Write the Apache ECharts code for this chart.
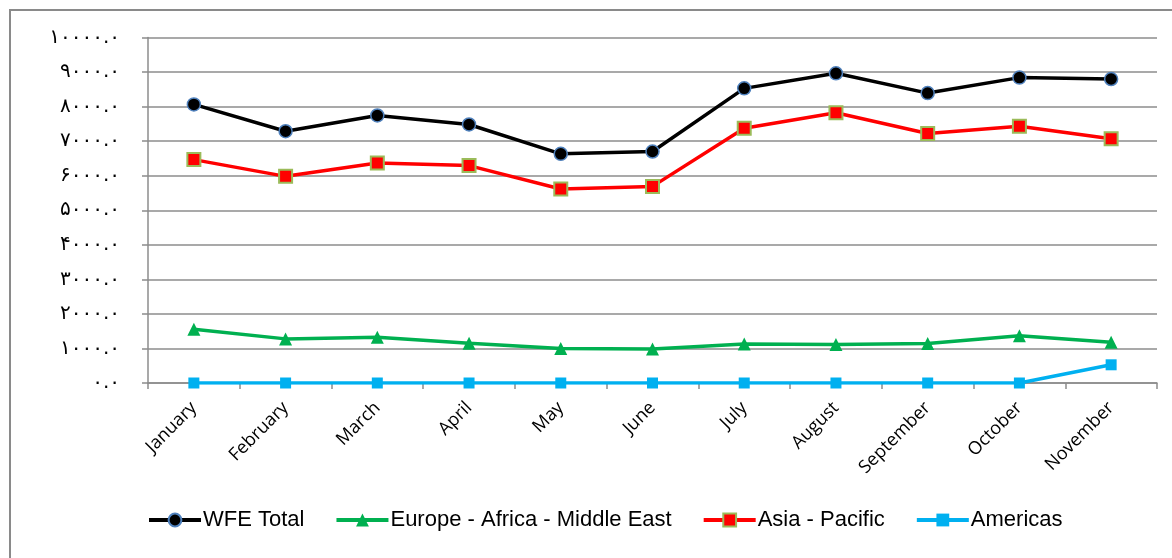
<!DOCTYPE html>
<html><head><meta charset="utf-8">
<script src="https://cdn.jsdelivr.net/npm/echarts@6/dist/echarts.min.js"></script>
<style>
html,body{margin:0;padding:0;background:#fff;}
#frame{position:absolute;left:9px;top:9px;width:1200px;height:600px;border:2px solid #8a8a8a;box-sizing:border-box;}
#c{position:absolute;left:0;top:0;width:1172px;height:558px;}
</style></head>
<body>
<div id="frame"></div>
<div id="c"></div>
<script>
const months = ['January','February','March','April','May','June','July','August','September','October','November'];
const wfeTotal = [8063, 7288, 7744, 7483, 6632, 6700, 8528, 8963, 8391, 8839, 8798];
const europeAfricaME = [1559, 1277, 1327, 1153, 996, 987, 1132, 1112, 1141, 1365, 1182];
const asiaPacific = [6466, 5981, 6370, 6292, 5615, 5691, 7375, 7822, 7221, 7433, 7067];
const americas = [0, 0, 0, 0, 0, 0, 0, 0, 0, 0, 527];
const yTickLabels = ['۰.۰','۱۰۰۰.۰','۲۰۰۰.۰','۳۰۰۰.۰','۴۰۰۰.۰','۵۰۰۰.۰','۶۰۰۰.۰','۷۰۰۰.۰','۸۰۰۰.۰','۹۰۰۰.۰','۱۰۰۰۰.۰'];

const chart = echarts.init(document.getElementById('c'), null, {renderer:'canvas'});
const gridColor = '#8c8c8c';
chart.setOption({
  animation:false,
  backgroundColor:'transparent',
  grid:{left:148, right:15, top:37.5, bottom:175, containLabel:false},
  legend:{
    bottom:22, left:142, itemWidth:52, itemHeight:16, itemGap:30,
    lineStyle:{width:4},
    textStyle:{fontFamily:'Liberation Sans', fontSize:22, color:'#000', padding:[0,0,0,-3]},
    data:['WFE Total','Europe - Africa - Middle East','Asia - Pacific','Americas']
  },
  xAxis:{
    type:'category', data:months, boundaryGap:true,
    axisLine:{lineStyle:{color:gridColor,width:1.5}},
    axisTick:{show:true, length:6, lineStyle:{color:gridColor,width:1.5}},
    axisLabel:{rotate:45, fontFamily:'Open Sans', fontSize:18, color:'#000', margin:22, interval:0}
  },
  yAxis:{
    type:'value', min:0, max:10000, interval:1000,
    axisLine:{show:true, lineStyle:{color:gridColor,width:1.5}},
    axisTick:{show:true, length:6, lineStyle:{color:gridColor,width:1.5}},
    splitLine:{lineStyle:{color:gridColor,width:1.5}},
    axisLabel:{margin:28, fontFamily:'DejaVu Sans', fontSize:20, color:'#000',
      formatter:function(v){ return yTickLabels[Math.round(v/1000)]; }}
  },
  series:[
    {name:'WFE Total', type:'line', data:wfeTotal, symbol:'circle', symbolSize:13,
     lineStyle:{color:'#000',width:3.5}, itemStyle:{color:'#000', borderColor:'#4f81bd', borderWidth:1.5}, z:4},
    {name:'Europe - Africa - Middle East', type:'line', data:europeAfricaME, symbol:'triangle', symbolSize:13,
     lineStyle:{color:'#00b050',width:3.5}, itemStyle:{color:'#00b050', borderColor:'#00b050', borderWidth:0}, z:3},
    {name:'Asia - Pacific', type:'line', data:asiaPacific, symbol:'rect', symbolSize:13,
     lineStyle:{color:'#ff0000',width:3.5}, itemStyle:{color:'#ff0000', borderColor:'#9bbb59', borderWidth:2}, z:3},
    {name:'Americas', type:'line', data:americas, symbol:'rect', symbolSize:11,
     lineStyle:{color:'#00b0f0',width:3.5}, itemStyle:{color:'#00b0f0', borderWidth:0}, z:2}
  ]
});
</script>
</body></html>
